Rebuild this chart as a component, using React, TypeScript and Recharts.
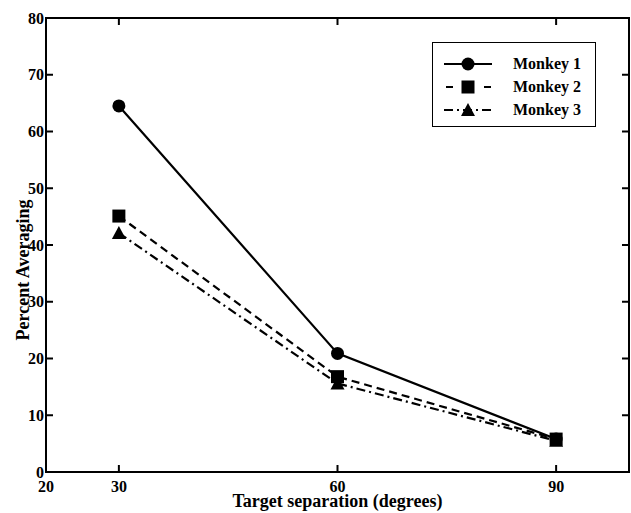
import { Label, Line, LineChart, ReferenceArea, XAxis, YAxis } from "recharts";

const separations = [30, 60, 90];
const monkey1 = [64.5, 20.9, 5.8];
const monkey2 = [45.1, 16.8, 5.8];
const monkey3 = [42.1, 15.6, 5.5];

const xTicks = [20, 30, 60, 90];
const yTicks = [0, 10, 20, 30, 40, 50, 60, 70, 80];

// the top and right axes are mirrors of the bottom and left ones (same domain)
const series = [
  { key: "m1", name: "Monkey 1", dash: undefined, shape: "circle", xId: "top", yId: "right" },
  { key: "m3", name: "Monkey 3", dash: "9 4 2 4", shape: "triangle", xId: 0, yId: 0 },
  { key: "m2", name: "Monkey 2", dash: "8 5", shape: "square", xId: 0, yId: 0 },
];
const legendOrder = ["m1", "m2", "m3"];

const data = separations.map((sep, i) => ({
  sep,
  m1: monkey1[i],
  m2: monkey2[i],
  m3: monkey3[i],
}));

const font = "'Liberation Serif', 'Times New Roman', serif";

const Marker = ({ cx, cy, shape }: { cx: number; cy: number; shape: string }) => {
  if (shape === "circle") return <circle cx={cx} cy={cy} r={6.5} fill="#000" />;
  if (shape === "square")
    return <rect x={cx - 6.5} y={cy - 6.5} width={13} height={13} fill="#000" />;
  return (
    <polygon
      points={`${cx},${cy - 7} ${cx - 7},${cy + 6} ${cx + 7},${cy + 6}`}
      fill="#000"
    />
  );
};

const tickStyle = { fontFamily: font, fontWeight: "bold", fontSize: 16, fill: "#000" };
const noLabel = () => "";

export default function App() {
  return (
    <div style={{ position: "absolute", left: 0, top: 0, background: "#fff" }}>
      <LineChart
        width={631}
        height={513}
        data={data}
        margin={{ top: 17, right: 1, bottom: 1, left: 6 }}
      >
        <XAxis
          dataKey="sep"
          type="number"
          domain={[20, 100]}
          ticks={xTicks}
          height={40}
          stroke="#000"
          strokeWidth={2}
          tickSize={-7}
          tickMargin={16}
          tick={tickStyle}
        >
          <Label
            position="insideBottom"
            content={({ viewBox }: any) => (
              <text
                x={viewBox.x + viewBox.width / 2}
                y={viewBox.y + viewBox.height - 5}
                textAnchor="middle"
                fontFamily={font}
                fontWeight="bold"
                fontSize={18}
                fill="#000"
              >
                Target separation (degrees)
              </text>
            )}
          />
        </XAxis>
        <XAxis
          xAxisId="top"
          orientation="top"
          dataKey="sep"
          type="number"
          domain={[20, 100]}
          ticks={[30, 60, 90]}
          height={1}
          stroke="#000"
          strokeWidth={2}
          tickSize={-7}
          tickFormatter={noLabel}
        />
        <YAxis
          type="number"
          domain={[0, 80]}
          ticks={yTicks}
          width={40}
          stroke="#000"
          strokeWidth={2}
          tickSize={-7}
          tickMargin={9}
          tick={tickStyle}
        >
          <Label
            position="insideLeft"
            content={({ viewBox }: any) => {
              const x = viewBox.x + 17;
              const y = viewBox.y + viewBox.height / 2 + 25;
              return (
                <text
                  x={x}
                  y={y}
                  transform={`rotate(-90, ${x}, ${y})`}
                  textAnchor="middle"
                  dominantBaseline="central"
                  fontFamily={font}
                  fontWeight="bold"
                  fontSize={18}
                  fill="#000"
                >
                  Percent Averaging
                </text>
              );
            }}
          />
        </YAxis>
        <YAxis
          yAxisId="right"
          orientation="right"
          type="number"
          domain={[0, 80]}
          ticks={yTicks}
          width={1}
          stroke="#000"
          strokeWidth={2}
          tickSize={-7}
          tickFormatter={noLabel}
        />
        <ReferenceArea
          x1={20}
          x2={100}
          y1={0}
          y2={80}
          fill="none"
          fillOpacity={0}
          stroke="#000"
          strokeWidth={2}
          ifOverflow="visible"
        />
        {series.map((s) => (
          <Line
            key={s.key}
            dataKey={s.key}
            name={s.name}
            xAxisId={s.xId}
            yAxisId={s.yId}
            stroke="#000"
            strokeWidth={2.2}
            strokeDasharray={s.dash}
            isAnimationActive={false}
            dot={(p: any) => <Marker key={`${s.key}-${p.index}`} cx={p.cx} cy={p.cy} shape={s.shape} />}
            activeDot={false}
          />
        ))}
      </LineChart>
      <div
        style={{
          position: "absolute",
          left: 432,
          top: 42,
          width: 162,
          height: 83,
          border: "1.5px solid #000",
          fontFamily: font,
          fontWeight: "bold",
          fontSize: 16,
          background: "#fff",
        }}
      >
        {legendOrder.map((k, i) => {
          const s = series.find((x) => x.key === k)!;
          return (
            <div
              key={k}
              style={{
                position: "absolute",
                left: 10,
                top: 11 + i * 23,
                height: 20,
                display: "flex",
                alignItems: "center",
              }}
            >
              <svg width={50} height={20}>
                <line
                  x1={1}
                  y1={10}
                  x2={49}
                  y2={10}
                  stroke="#000"
                  strokeWidth={2.2}
                  strokeDasharray={s.dash ? (s.key === "m2" ? "7 12" : "9 4 2 4") : undefined}
                  strokeDashoffset={s.key === "m2" ? -2 : 0}
                />
                <Marker cx={25} cy={10} shape={s.shape} />
              </svg>
              <span style={{ marginLeft: 20 }}>{s.name}</span>
            </div>
          );
        })}
      </div>
    </div>
  );
}
